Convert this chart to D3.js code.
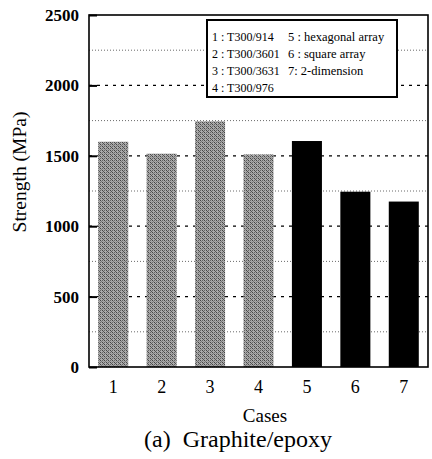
<!DOCTYPE html>
<html><head><meta charset="utf-8">
<script src="https://cdn.jsdelivr.net/npm/d3@7"></script>
<style>body{margin:0;background:#fff}svg{display:block}</style>
</head><body><svg id="c" width="432" height="459" font-family="Liberation Serif"></svg>
<script>
const cases = ["1","2","3","4","5","6","7"];
const strength = [1600, 1515, 1745, 1510, 1605, 1245, 1175];
const groups = ["material","material","material","material","model","model","model"];
const yTicks = [0, 500, 1000, 1500, 2000, 2500];
const yMinor = [250, 750, 1250, 1750, 2250];
const legendCol1 = ["1 : T300/914","2 : T300/3601","3 : T300/3631","4 : T300/976"];
const legendCol2 = ["5 : hexagonal array","6 : square array","7: 2-dimension"];

const FF = "Liberation Serif";
const svg = d3.select("#c");
const L = 89, R = 428, T = 15, B = 367;
const x = d3.scaleBand().domain(cases).range([L, R]).paddingInner(0.38).paddingOuter(0.19);
const y = d3.scaleLinear().domain([0, 2500]).range([B, T]);

const defs = svg.append("defs");
const pat = defs.append("pattern").attr("id","stip").attr("width",4).attr("height",4).attr("patternUnits","userSpaceOnUse");
pat.append("rect").attr("width",4).attr("height",4).attr("fill","#aaa");
[[0,0,"#444"],[2,2,"#444"],[2,0,"#666"],[0,2,"#666"],[1,1,"#777"],[3,3,"#555"],[3,1,"#999"]].forEach(p=>
  pat.append("rect").attr("x",p[0]).attr("y",p[1]).attr("width",1).attr("height",1).attr("fill",p[2]));

// gridlines
svg.append("g").selectAll("line").data(yTicks.slice(1,-1)).join("line")
  .attr("x1",L).attr("x2",R).attr("y1",d=>y(d)).attr("y2",d=>y(d))
  .attr("stroke","#000").attr("stroke-width",1.3).attr("stroke-dasharray","3,5");
svg.append("g").selectAll("line").data(yMinor).join("line")
  .attr("x1",L).attr("x2",R).attr("y1",d=>y(d)).attr("y2",d=>y(d))
  .attr("stroke","#444").attr("stroke-width",0.8).attr("stroke-dasharray","1,2");

// bars
svg.append("g").selectAll("rect").data(cases).join("rect")
  .attr("x",d=>x(d)).attr("width",x.bandwidth())
  .attr("y",(d,i)=>y(strength[i])).attr("height",(d,i)=>y(0)-y(strength[i]))
  .attr("fill",(d,i)=>groups[i]==="material"?"url(#stip)":"#000");

// frame
svg.append("rect").attr("x",L).attr("y",T).attr("width",R-L).attr("height",B-T)
  .attr("fill","none").attr("stroke","#000").attr("stroke-width",1.6);

// y axis
const ya = svg.append("g").attr("transform",`translate(${L},0)`)
  .call(d3.axisRight(y).tickValues(yTicks).tickSize(8).tickFormat(""));
ya.select(".domain").remove();
ya.selectAll("line").attr("stroke-width",2);
svg.append("g").selectAll("text").data(yTicks).join("text")
  .attr("font-family",FF)
  .attr("x",L-10).attr("y",d=>y(d)).attr("dy","0.35em").attr("text-anchor","end")
  .attr("font-size",17).attr("font-weight","bold").text(d=>d);

// x axis labels
const xa = svg.append("g").attr("transform",`translate(0,${B})`)
  .call(d3.axisBottom(x).tickSize(0).tickPadding(13));
xa.attr("font-family",FF);
xa.select(".domain").remove();
xa.selectAll("text").attr("font-size",18).attr("font-family",FF).attr("fill","#000");

svg.append("text").attr("font-family",FF).attr("x",265).attr("y",422).attr("text-anchor","middle").attr("font-size",19).text("Cases");
svg.append("text").attr("font-family",FF).attr("x",238).attr("y",447).attr("text-anchor","middle").attr("font-size",24).attr("xml:space","preserve").text("(a)  Graphite/epoxy");
svg.append("text").attr("font-family",FF).attr("transform","translate(26,172) rotate(-90)").attr("text-anchor","middle").attr("font-size",19.5).text("Strength (MPa)");

// legend
const lg = svg.append("g");
lg.append("rect").attr("x",207).attr("y",20).attr("width",190).attr("height",77)
  .attr("fill","#fff").attr("stroke","#000").attr("stroke-width",2);
lg.selectAll("text.c1").data(legendCol1).join("text").attr("class","c1").attr("font-family",FF)
  .attr("x",212).attr("y",(d,i)=>40.5+i*17).attr("font-size",12).text(d=>d);
lg.selectAll("text.c2").data(legendCol2).join("text").attr("class","c2").attr("font-family",FF)
  .attr("x",288).attr("y",(d,i)=>40.5+i*17).attr("font-size",12.5).text(d=>d);
</script></body></html>
